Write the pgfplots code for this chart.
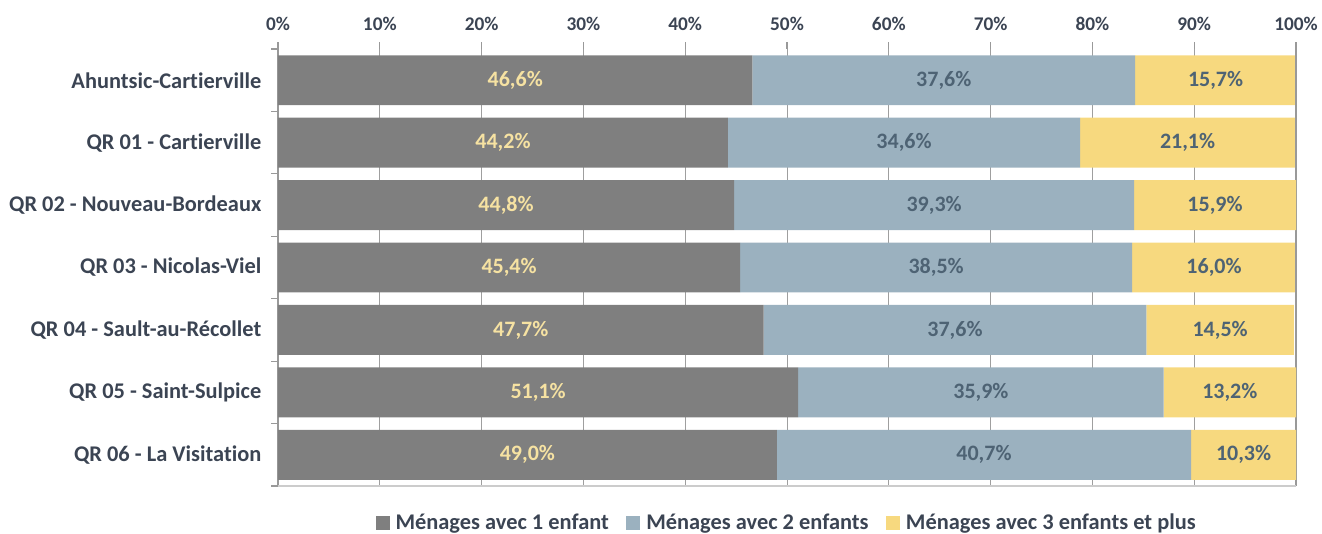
\documentclass[border=0pt]{standalone}
\usepackage{pgfplots}
\pgfplotsset{compat=1.18}
\usepackage{fontspec}
\setmainfont{Carlito}[Ligatures={NoCommon}]
\definecolor{cgrey}{HTML}{7F7F7F}
\definecolor{cblue}{HTML}{9BB1BF}
\definecolor{cyel}{HTML}{F7D97F}
\definecolor{txt}{HTML}{3B4453}
\definecolor{lblY}{HTML}{F6E2A2}
\definecolor{lblB}{HTML}{4E6374}
\begin{document}
\begin{tikzpicture}[font=\bfseries]
\useasboundingbox (-208.5pt,-35.25pt) rectangle (783pt,364.5pt);
\begin{axis}[
  at={(0,0)}, anchor=south west,
  scale only axis, width=763.5pt, height=327.75pt,
  xbar stacked, bar width=0.8,
  xmin=0, xmax=100, ymin=-0.5, ymax=6.5,
  separate axis lines,
  x axis line style={draw=none},
  y axis line style={draw=gray!80, line width=0.8pt},
  xtick={0,10,...,100},
  xticklabels={0\%,10\%,20\%,30\%,40\%,50\%,60\%,70\%,80\%,90\%,100\%},
  xtick pos=right, xticklabel pos=right,
  ytick={-0.5,0.5,...,6.5},
  y tick label as interval,
  yticklabels={QR 06 - La Visitation, QR 05 - Saint-Sulpice, QR 04 - Sault-au-Récollet, QR 03 - Nicolas-Viel, QR 02 - Nouveau-Bordeaux, QR 01 - Cartierville, Ahuntsic-Cartierville},
  ytick pos=left,
  tick align=outside,
  major tick length=5pt,
  tick style={draw=gray!80, line width=0.8pt},
  xmajorgrids, major grid style={draw=gray!75, line width=0.7pt},
  xticklabel style={font=\fontsize{14.5}{16}\selectfont\bfseries, text=txt, yshift=5.5pt},
  yticklabel style={font=\fontsize{16.8}{18}\selectfont\bfseries, text=txt, xshift=-4pt},
  legend style={at={(0.5,-0.084)}, anchor=center, draw=none, fill=none,
    legend columns=3, font=\fontsize{16.8}{18}\selectfont\bfseries, text=txt,
    /tikz/every even column/.append style={column sep=11pt},
    /tikz/every odd column/.append style={column sep=2.5pt},
    inner sep=0pt},
  legend image code/.code={\draw[#1, draw=none] (0pt,-5.25pt) rectangle (10.5pt,5.25pt);},
  clip=true,
]
\addplot[fill=cgrey, draw=none] coordinates {(46.6,6) (44.2,5) (44.8,4) (45.4,3) (47.7,2) (51.1,1) (49.0,0)};
\addplot[fill=cblue, draw=none] coordinates {(37.6,6) (34.6,5) (39.3,4) (38.5,3) (37.6,2) (35.9,1) (40.7,0)};
\addplot[fill=cyel, draw=none] coordinates {(15.7,6) (21.1,5) (15.9,4) (16.0,3) (14.5,2) (13.2,1) (10.3,0)};
\legend{Ménages avec 1 enfant, Ménages avec 2 enfants, Ménages avec 3 enfants et plus}
\draw[draw=gray!40, line width=1.5pt] (axis cs:0,-0.5) -- (axis cs:100,-0.5);
\end{axis}
\begin{axis}[
  at={(0,0)}, anchor=south west,
  scale only axis, width=763.5pt, height=327.75pt,
  xmin=0, xmax=100, ymin=-0.5, ymax=6.5,
  hide axis, clip=false,
  nodes near coords, point meta=explicit symbolic,
  every node near coord/.append style={anchor=center, font=\fontsize{16.5}{18}\selectfont\bfseries},
]
\addplot[draw=none, every node near coord/.append style={text=lblY}] coordinates {
 (23.3,6) [46,6\%] (22.1,5) [44,2\%] (22.4,4) [44,8\%] (22.7,3) [45,4\%]
 (23.85,2) [47,7\%] (25.55,1) [51,1\%] (24.5,0) [49,0\%]};
\addplot[draw=none, every node near coord/.append style={text=lblB}] coordinates {
 (65.4,6) [37,6\%] (61.5,5) [34,6\%] (64.45,4) [39,3\%] (64.65,3) [38,5\%]
 (66.5,2) [37,6\%] (69.05,1) [35,9\%] (69.35,0) [40,7\%]};
\addplot[draw=none, every node near coord/.append style={text=lblB}] coordinates {
 (92.1,6) [15,7\%] (89.35,5) [21,1\%] (92.05,4) [15,9\%] (91.95,3) [16,0\%]
 (92.55,2) [14,5\%] (93.5,1) [13,2\%] (94.85,0) [10,3\%]};
\end{axis}
\end{tikzpicture}
\end{document}
